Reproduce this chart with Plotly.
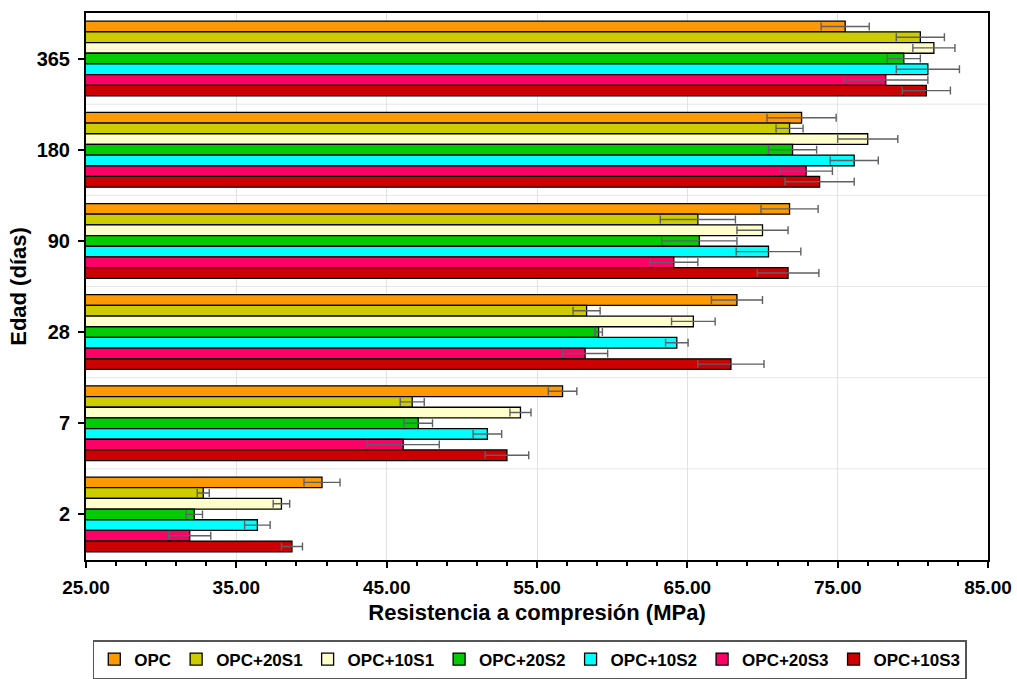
import plotly.graph_objects as go

# Curing ages (days), top to bottom
ages = ["365", "180", "90", "28", "7", "2"]

series = ["OPC", "OPC+20S1", "OPC+10S1", "OPC+20S2", "OPC+10S2", "OPC+20S3", "OPC+10S3"]
colors = ["#FF9900", "#CCCC00", "#FFFFCC", "#00CC00", "#00FFFF", "#FF0066", "#CC0000"]

# Mean compressive strength (MPa) per age, in the order of `ages`
opc      = [75.5, 72.6, 71.8, 68.3, 56.7, 40.7]
opc_20s1 = [80.5, 71.8, 65.7, 58.3, 46.7, 32.8]
opc_10s1 = [81.4, 77.0, 70.0, 65.4, 53.9, 38.0]
opc_20s2 = [79.4, 72.0, 65.8, 59.1, 47.1, 32.2]
opc_10s2 = [81.0, 76.1, 70.4, 64.3, 51.7, 36.4]
opc_20s3 = [78.2, 72.9, 64.1, 58.2, 46.1, 31.9]
opc_10s3 = [80.9, 73.8, 71.7, 67.9, 53.0, 38.7]

# Standard deviations (MPa)
sd_opc      = [1.6, 2.3, 1.9, 1.7, 0.95, 1.2]
sd_20s1     = [1.6, 0.9, 2.5, 0.9, 0.8, 0.4]
sd_10s1     = [1.4, 2.0, 1.7, 1.45, 0.7, 0.55]
sd_20s2     = [1.1, 1.6, 2.5, 0.25, 0.95, 0.55]
sd_10s2     = [2.1, 1.6, 2.15, 0.75, 0.95, 0.85]
sd_20s3     = [2.8, 1.75, 1.6, 1.5, 2.4, 1.4]
sd_10s3     = [1.6, 2.3, 2.05, 2.2, 1.45, 0.7]

values = [opc, opc_20s1, opc_10s1, opc_20s2, opc_10s2, opc_20s3, opc_10s3]
errors = [sd_opc, sd_20s1, sd_10s1, sd_20s2, sd_10s2, sd_20s3, sd_10s3]

font_family = "Liberation Sans, Arial, sans-serif"

fig = go.Figure()
for name, col, vals, err in zip(series, colors, values, errors):
    fig.add_trace(go.Bar(
        y=ages, x=vals, name=name, orientation="h",
        marker=dict(color=col, line=dict(color="#000000", width=1.3)),
        error_x=dict(type="data", array=err, visible=True,
                     color="#5f5f66", thickness=1.4, width=4),
    ))

# faint separators between age groups
shapes = []
for i in range(len(ages) - 1):
    shapes.append(dict(type="line", xref="paper", x0=0, x1=1, yref="y",
                       y0=i + 0.5, y1=i + 0.5,
                       line=dict(color="#e6e6e6", width=1), layer="below"))

fig.update_layout(
    width=1017, height=679,
    margin=dict(l=86, r=29, t=13, b=119, autoexpand=False),
    paper_bgcolor="white", plot_bgcolor="white",
    barmode="group", bargap=0.18, bargroupgap=0,
    font=dict(family=font_family, color="#000000"),
    shapes=shapes,
    legend=dict(
        orientation="h",
        x=0.492, xanchor="center",
        y=-0.1463, yanchor="top",
        bordercolor="#555555", borderwidth=1.5,
        font=dict(size=17, family=font_family, weight="bold"),
        itemwidth=30, tracegroupgap=0,
    ),
    showlegend=True,
)

fig.update_xaxes(
    range=[25, 85], tick0=25, dtick=10, tickformat=".2f",
    ticks="outside", ticklen=6, tickwidth=1.5, tickcolor="#000000",
    ticklabelstandoff=3,
    minor=dict(dtick=2, tick0=25, ticks="outside", ticklen=4, tickcolor="#000000", showgrid=False),
    showgrid=True, gridcolor="#e2e2e2", gridwidth=1,
    showline=True, linecolor="#000000", linewidth=2, mirror=True,
    tickfont=dict(size=19, family=font_family, weight="bold"),
    title=dict(text="Resistencia a compresión (MPa)", standoff=8,
               font=dict(size=22, family=font_family, weight="bold")),
    zeroline=False,
)

fig.update_yaxes(
    type="category", categoryorder="array", categoryarray=ages,
    range=[len(ages) - 0.5, -0.5],
    ticks="outside", ticklen=6, tickwidth=1.5, tickcolor="#000000",
    ticklabelstandoff=4,
    showgrid=False,
    showline=True, linecolor="#000000", linewidth=2, mirror=True,
    tickfont=dict(size=20, family=font_family, weight="bold"),
    title=dict(text="Edad (días)", standoff=4,
               font=dict(size=22, family=font_family, weight="bold")),
)

fig.write_html("out.html")
